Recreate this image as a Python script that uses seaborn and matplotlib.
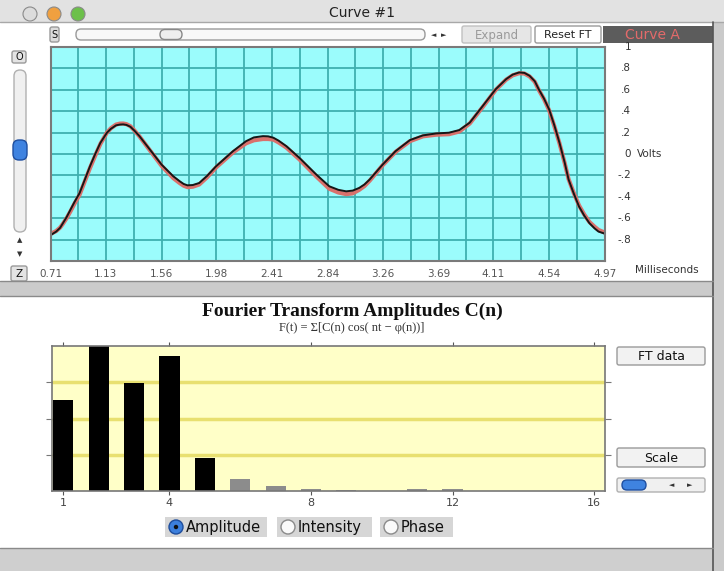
import matplotlib
matplotlib.use('Agg')
import matplotlib.pyplot as plt
import matplotlib.patches as mpatches
from matplotlib.transforms import blended_transform_factory
import seaborn as sns
import pandas as pd
import numpy as np

# --- data ---
# waveform samples (milliseconds, volts)
time_ms = [0.71, 0.75, 0.78, 0.80, 0.83, 0.86, 0.89, 0.93, 0.97, 1.01, 1.05, 1.09,
           1.14, 1.17, 1.21, 1.24, 1.265, 1.29, 1.32, 1.35, 1.39, 1.47, 1.56, 1.65,
           1.70, 1.73, 1.76, 1.80, 1.85, 1.91, 1.98, 2.11, 2.21, 2.27, 2.34, 2.38,
           2.42, 2.46, 2.52, 2.62, 2.75, 2.85, 2.92, 2.98, 3.03, 3.08, 3.12, 3.16,
           3.26, 3.36, 3.47, 3.57, 3.67, 3.77, 3.85, 3.93, 4.03, 4.13, 4.21, 4.26,
           4.31, 4.35, 4.39, 4.43, 4.46, 4.50, 4.54, 4.58, 4.62, 4.66, 4.69, 4.73,
           4.77, 4.81, 4.85, 4.89, 4.92, 4.97]
volts_curve = [-0.756, -0.725, -0.69, -0.65, -0.59, -0.52, -0.45, -0.365, -0.24, -0.114,
               0.0, 0.105, 0.199, 0.235, 0.268, 0.275, 0.277, 0.272, 0.255, 0.22,
               0.167, 0.042, -0.099, -0.208, -0.255, -0.28, -0.293, -0.29, -0.271, -0.205,
               -0.114, 0.027, 0.12, 0.155, 0.167, 0.165, 0.152, 0.125, 0.073, -0.036,
               -0.192, -0.302, -0.335, -0.349, -0.342, -0.317, -0.285, -0.239, -0.099, 0.027,
               0.13, 0.174, 0.192, 0.199, 0.224, 0.293, 0.449, 0.606, 0.70, 0.742,
               0.762, 0.758, 0.731, 0.68, 0.606, 0.52, 0.418, 0.27, 0.105, -0.08,
               -0.239, -0.37, -0.49, -0.575, -0.646, -0.695, -0.725, -0.745]
volts_fit = [-0.745, -0.72, -0.688, -0.655, -0.60, -0.535, -0.465, -0.38, -0.255, -0.13,
             -0.015, 0.095, 0.2, 0.24, 0.275, 0.284, 0.285, 0.279, 0.26, 0.222,
             0.165, 0.035, -0.11, -0.225, -0.272, -0.296, -0.31, -0.306, -0.285, -0.218,
             -0.125, 0.015, 0.10, 0.128, 0.14, 0.14, 0.135, 0.108, 0.06, -0.05,
             -0.21, -0.325, -0.36, -0.375, -0.368, -0.335, -0.30, -0.25, -0.105, 0.02,
             0.12, 0.165, 0.18, 0.185, 0.21, 0.285, 0.44, 0.60, 0.695, 0.735,
             0.755, 0.752, 0.725, 0.675, 0.60, 0.515, 0.41, 0.262, 0.10, -0.085,
             -0.235, -0.365, -0.48, -0.565, -0.635, -0.68, -0.71, -0.735]
time_ticks = [0.71, 1.13, 1.56, 1.98, 2.41, 2.84, 3.26, 3.69, 4.11, 4.54, 4.97]
volt_ticks = [1, 0.8, 0.6, 0.4, 0.2, 0, -0.2, -0.4, -0.6, -0.8]
volt_labels = ['1', '.8', '.6', '.4', '.2', '0', '-.2', '-.4', '-.6', '-.8']

# Fourier amplitudes C(n), normalised to the panel height
harmonic = list(range(1, 17))
amplitude = [0.626, 1.0, 0.745, 0.929, 0.225, 0.083, 0.036, 0.014,
             0.010, 0.0, 0.014, 0.014, 0.0, 0.0, 0.0, 0.0]
harmonic_ticks = [1, 4, 8, 12, 16]

W, H = 724, 571


def frac(left, top, right, bottom):
    return [left / W, 1 - bottom / H, (right - left) / W, (bottom - top) / H]


sns.set_style('white')
plt.rcParams['font.family'] = ['DejaVu Sans']

fig = plt.figure(figsize=(W / 100, H / 100), dpi=100)

# window chrome drawn in pixel coordinates
bg = fig.add_axes([0, 0, 1, 1], zorder=0)
bg.set_xlim(0, W)
bg.set_ylim(H, 0)
bg.axis('off')


def rect(x0, y0, x1, y1, fc, ec='none', lw=1, **kw):
    bg.add_patch(mpatches.Rectangle((x0, y0), x1 - x0, y1 - y0, facecolor=fc,
                                    edgecolor=ec, linewidth=lw, **kw))


def button(x0, y0, x1, y1, label, fc='#f2f2f2', ec='#9a9a9a', tc='#111', size=9):
    bg.add_patch(mpatches.FancyBboxPatch((x0, y0), x1 - x0, y1 - y0,
                                         boxstyle='round,pad=0,rounding_size=2',
                                         facecolor=fc, edgecolor=ec, linewidth=1))
    bg.text((x0 + x1) / 2, (y0 + y1) / 2 + 0.5, label, ha='center', va='center',
            fontsize=size, color=tc)


# title bar
rect(0, 0, W, 22, '#e2e2e2')
bg.plot([0, W], [22, 22], color='#a8a8a8', lw=1)
for cx, col in [(30, '#dcdcdc'), (54, '#f0a040'), (78, '#6cc04a')]:
    bg.add_patch(mpatches.Circle((cx, 14), 7, facecolor=col, edgecolor='#8a8a8a', lw=0.8))
bg.text(362, 13, 'Curve #1', ha='center', va='center', fontsize=10, color='#222')

# right and bottom gray areas
rect(713, 22, W, H, '#cacaca')
bg.plot([713, 713], [22, H], color='#555', lw=1.2)
rect(0, 281, 713, 296, '#cbcbcb')
bg.plot([0, 713], [281, 281], color='#8a8a8a', lw=1)
bg.plot([0, 713], [296, 296], color='#8a8a8a', lw=1)
rect(0, 548, 713, H, '#cfcfcf')
bg.plot([0, 713], [548, 548], color='#8a8a8a', lw=1)

# toolbar row
button(50, 27, 59, 42, 'S', fc='#dcdcdc', size=7)
bg.add_patch(mpatches.FancyBboxPatch((76, 29), 349, 11, boxstyle='round,pad=0,rounding_size=5',
                                     facecolor='#f8f8f8', edgecolor='#9a9a9a', lw=1))
bg.add_patch(mpatches.FancyBboxPatch((160, 29.5), 22, 10, boxstyle='round,pad=0,rounding_size=5',
                                     facecolor='#eeeeee', edgecolor='#888', lw=1))
bg.text(434, 35, '◄', ha='center', va='center', fontsize=5, color='#333')
bg.text(444, 35, '►', ha='center', va='center', fontsize=5, color='#333')
button(462, 26, 531, 43, 'Expand', fc='#e6e6e6', ec='#c0c0c0', tc='#9a9a9a', size=8.5)
button(535, 26, 601, 43, 'Reset FT', fc='#ffffff', ec='#9a9a9a', tc='#222', size=8)
rect(603, 26, 713, 43, '#5c5c5c')
bg.text(652, 35, 'Curve A', ha='center', va='center', fontsize=10, color='#e36a6a')

# left column controls
button(12, 51, 26, 63, 'O', fc='#e4e4e4', size=7)
bg.add_patch(mpatches.FancyBboxPatch((14, 70), 12, 162, boxstyle='round,pad=0,rounding_size=6',
                                     facecolor='#f0f0f0', edgecolor='#b0b0b0', lw=1))
bg.add_patch(mpatches.FancyBboxPatch((13, 140), 14, 20, boxstyle='round,pad=0,rounding_size=6',
                                     facecolor='#3f83e0', edgecolor='#1f4fa0', lw=1))
bg.text(20, 240, '▲', ha='center', va='center', fontsize=5, color='#333')
bg.text(20, 254, '▼', ha='center', va='center', fontsize=5, color='#333')
button(11, 266, 27, 281, 'Z', fc='#e4e4e4', size=7.5)

# --- oscilloscope trace ---
ax = fig.add_axes(frac(51, 47, 605, 261), zorder=2)
ax.set_facecolor('#9bfcfc')
wave = pd.DataFrame({'time': time_ms, 'curve': volts_curve, 'fit': volts_fit})
sns.lineplot(data=wave, x='time', y='fit', ax=ax, color='#d9716c', lw=3, errorbar=None)
sns.lineplot(data=wave, x='time', y='curve', ax=ax, color='#161616', lw=1.4, errorbar=None)
ax.set_xlim(time_ticks[0], time_ticks[-1])
ax.set_ylim(-1, 1)
ax.set_xticks(time_ticks)
ax.set_xticks([(a + b) / 2 for a, b in zip(time_ticks[:-1], time_ticks[1:])], minor=True)
ax.set_xticklabels([f'{t:.2f}' for t in time_ticks])
ax.set_yticks(np.arange(-0.8, 0.81, 0.2))
ax.set_yticklabels([])
ax.tick_params(axis='y', length=0)
ax.tick_params(axis='x', which='major', direction='out', length=5, width=1, color='#333',
               labelsize=7.5, labelcolor='#555', pad=1)
ax.tick_params(axis='x', which='minor', direction='out', length=3, width=1, color='#333')
ax.grid(True, which='both', color='#3fb0b0', lw=1.3)
ax.set_axisbelow(True)
ax.set_xlabel('')
ax.set_ylabel('')
for s in ax.spines.values():
    s.set_color('#7a7a7a')
    s.set_linewidth(1.5)

tr = blended_transform_factory(ax.transAxes, ax.transData)
for v, lab in zip(volt_ticks, volt_labels):
    ax.text(1.047, v, lab, transform=tr, ha='right', va='center', fontsize=7.5, color='#333')
ax.text(1.058, 0, 'Volts', transform=tr, ha='left', va='center', fontsize=7.5, color='#333')
ax.annotate('Milliseconds', xy=(1, 0), xycoords='axes fraction', xytext=(30, -9),
            textcoords='offset pixels', ha='left', va='center', fontsize=7.5, color='#333')

# --- Fourier amplitudes panel ---
bg.text(352, 311, 'Fourier Transform Amplitudes C(n)', ha='center', va='center',
        fontsize=14, fontweight='bold', family='Liberation Serif', color='#111')
bg.text(352, 328, 'F(t) = Σ[C(n) cos( nt − φ(n))]', ha='center', va='center',
        fontsize=9, family='Liberation Serif', color='#333')

ax2 = fig.add_axes(frac(52, 346, 605, 491), zorder=2)
ax2.set_facecolor('#ffffc8')
ft = pd.DataFrame({'n': harmonic, 'C': amplitude})
ft['kind'] = np.where(ft['C'] > 0.15, 'strong', 'weak')
sns.barplot(data=ft, x='n', y='C', hue='kind', palette={'strong': 'black', 'weak': '#8c8c8c'},
            native_scale=True, width=0.57, dodge=False, legend=False, errorbar=None,
            saturation=1, linewidth=0, ax=ax2)
ax2.set_xlim(0.68, 16.31)
ax2.set_ylim(0, 1)
ax2.set_xticks(harmonic_ticks)
ax2.set_xticklabels([str(t) for t in harmonic_ticks])
ax2.set_yticks([0.25, 0.5, 0.75])
ax2.set_yticklabels([])
ax2.tick_params(axis='x', direction='out', length=3, color='#555', top=True, bottom=True,
                labelsize=8, labelcolor='#444', pad=2)
ax2.tick_params(axis='y', direction='out', length=4, color='#777', left=True, right=True)
ax2.grid(True, axis='y', color='#e8e070', lw=2.5)
ax2.set_axisbelow(True)
ax2.set_xlabel('')
ax2.set_ylabel('')
for s in ax2.spines.values():
    s.set_color('#777')
    s.set_linewidth(1.2)

# side buttons
button(617, 347, 705, 365, 'FT data', size=9)
button(617, 448, 705, 467, 'Scale', size=9)
bg.add_patch(mpatches.FancyBboxPatch((617, 478), 88, 14, boxstyle='round,pad=0,rounding_size=2',
                                     facecolor='#f0f0f0', edgecolor='#b0b0b0', lw=1))
bg.add_patch(mpatches.FancyBboxPatch((622, 480), 24, 10, boxstyle='round,pad=0,rounding_size=5',
                                     facecolor='#3f83e0', edgecolor='#1f4fa0', lw=1))
bg.text(672, 485, '◄', ha='center', va='center', fontsize=5, color='#333')
bg.text(690, 485, '►', ha='center', va='center', fontsize=5, color='#333')

# radio buttons
for x0, x1, lab, on in [(165, 267, 'Amplitude', True), (277, 372, 'Intensity', False),
                        (380, 453, 'Phase', False)]:
    rect(x0, 517, x1, 537, '#d6d6d6')
    cx = x0 + 11
    if on:
        bg.add_patch(mpatches.Circle((cx, 527), 7, facecolor='#3c7fdc', edgecolor='#1d4c9c', lw=1))
        bg.add_patch(mpatches.Circle((cx, 527), 2.2, facecolor='#111', edgecolor='none'))
    else:
        bg.add_patch(mpatches.Circle((cx, 527), 7, facecolor='#fafafa', edgecolor='#8a8a8a', lw=1))
    bg.text(cx + 10, 527.5, lab, ha='left', va='center', fontsize=10.5, color='#111')

fig.savefig('out.png', dpi=100)
